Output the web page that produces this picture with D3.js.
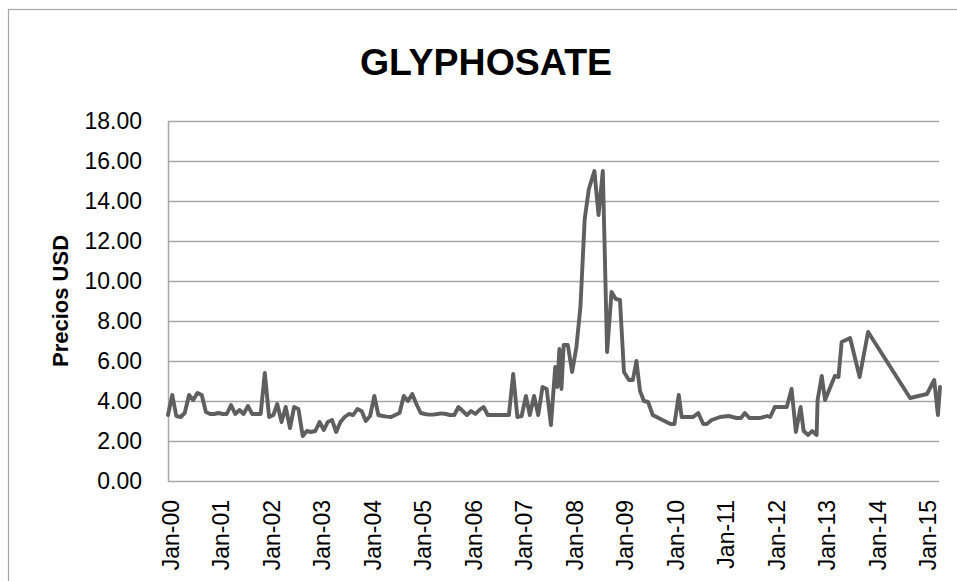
<!DOCTYPE html>
<html><head><meta charset="utf-8">
<script src="https://cdn.jsdelivr.net/npm/d3@7"></script>
<style>
html,body{margin:0;padding:0;background:#fff;}
svg{display:block;font-family:"Liberation Sans",Arial,sans-serif;}
</style></head>
<body><svg id="c" width="957" height="581"></svg>
<script>
const title = "GLYPHOSATE";
const yTitle = "Precios USD";
const yTicks = [0,2,4,6,8,10,12,14,16,18];
const xTickLabels = ["Jan-00","Jan-01","Jan-02","Jan-03","Jan-04","Jan-05","Jan-06","Jan-07","Jan-08","Jan-09","Jan-10","Jan-11","Jan-12","Jan-13","Jan-14","Jan-15"];
const dates = [
"2000-01-01","2000-02-01","2000-03-01","2000-04-01","2000-05-01","2000-06-01","2000-07-01","2000-08-01","2000-09-01","2000-10-01","2000-11-01","2000-12-01",
"2001-01-01","2001-02-01","2001-03-01","2001-04-01","2001-05-01","2001-06-01","2001-07-01","2001-08-01","2001-09-01","2001-10-01","2001-11-01","2001-12-01",
"2002-01-01","2002-02-01","2002-03-01","2002-04-01","2002-05-01","2002-06-01","2002-07-01","2002-08-01","2002-09-01","2002-10-01","2002-11-01","2002-12-01",
"2003-01-01","2003-02-01","2003-03-01","2003-04-01","2003-05-01","2003-06-01","2003-07-01","2003-08-01","2003-09-01","2003-10-01","2003-11-01","2003-12-01",
"2004-01-01","2004-02-01","2004-03-01","2004-04-01","2004-05-01","2004-06-01","2004-07-01","2004-08-01","2004-09-01","2004-10-01","2004-11-01","2004-12-01",
"2005-01-01","2005-02-01","2005-03-01","2005-04-01","2005-05-01","2005-06-01","2005-07-01","2005-08-01","2005-09-01","2005-10-01","2005-11-01","2005-12-01",
"2006-01-01","2006-02-01","2006-03-01","2006-04-01","2006-05-01","2006-06-01","2006-07-01","2006-08-01","2006-09-01","2006-10-01","2006-11-01","2006-12-01",
"2007-01-01","2007-02-01","2007-03-01","2007-04-01","2007-05-01","2007-06-01","2007-07-01","2007-08-01","2007-09-01","2007-09-16","2007-10-01","2007-10-16","2007-11-01","2007-12-01",
"2008-01-01","2008-02-01","2008-03-01","2008-04-01","2008-05-01","2008-06-10","2008-07-10","2008-08-10","2008-09-10","2008-10-12","2008-11-12","2008-12-12",
"2009-01-10","2009-02-15","2009-03-15","2009-04-10","2009-05-06","2009-06-03","2009-07-03","2009-08-06","2009-10-01","2009-12-12",
"2010-01-10","2010-02-10","2010-03-03","2010-05-25","2010-07-01","2010-08-06","2010-09-01","2010-10-06","2010-12-06",
"2011-02-06","2011-04-03","2011-05-06","2011-06-03","2011-07-06","2011-09-21","2011-11-10","2011-12-03",
"2012-01-06","2012-04-01","2012-05-06","2012-06-06","2012-07-10","2012-08-01","2012-09-03","2012-10-01","2012-11-03","2012-11-10","2012-12-10",
"2013-01-03","2013-02-10","2013-03-15","2013-04-10","2013-05-03","2013-07-03","2013-09-10","2013-11-10",
"2014-09-10","2015-01-10","2015-03-03","2015-03-30","2015-04-14"
];
const prices = [
3.3,4.3,3.25,3.2,3.4,4.3,4.05,4.4,4.3,3.45,3.35,3.35,
3.4,3.35,3.35,3.8,3.35,3.55,3.35,3.75,3.35,3.35,3.35,5.4,
3.2,3.3,3.85,2.95,3.7,2.65,3.7,3.6,2.25,2.5,2.45,2.5,
2.95,2.55,2.95,3.05,2.45,2.95,3.2,3.35,3.3,3.6,3.5,3.0,
3.25,4.25,3.3,3.25,3.22,3.2,3.3,3.4,4.25,4.0,4.35,3.85,
3.4,3.35,3.32,3.32,3.35,3.38,3.35,3.3,3.3,3.7,3.5,3.3,
3.5,3.35,3.55,3.7,3.3,3.3,3.3,3.3,3.3,3.3,5.35,3.2,
3.25,4.25,3.3,4.25,3.3,4.7,4.6,2.8,5.7,4.7,6.6,4.6,6.8,6.8,
5.45,6.7,8.7,13.1,14.6,15.5,13.3,15.5,6.45,9.45,9.1,9.05,
5.45,5.05,5.05,6.0,4.5,4.0,3.95,3.3,3.1,2.85,
2.85,4.3,3.2,3.2,3.4,2.85,2.85,3.05,3.2,
3.25,3.15,3.15,3.4,3.15,3.15,3.25,3.2,
3.7,3.7,4.6,2.45,3.7,2.5,2.3,2.5,2.3,4.05,5.25,
4.05,4.7,5.25,5.2,6.95,7.15,5.2,7.45,
4.15,4.35,5.05,3.3,4.7
];

const parseDate = d3.timeParse("%Y-%m-%d");
const parseTick = d3.timeParse("%b-%y");
const data = dates.map((d,i)=>({date:parseDate(d), value:prices[i]}));

const svg = d3.select("#c");
const pLeft = 168, pRight = 940, pTop = 121, pBottom = 481;

const x = d3.scaleTime().domain([parseDate("2000-01-01"), parseDate("2015-04-14")]).range([pLeft, pRight]);
const y = d3.scaleLinear().domain([0,18]).range([pBottom, pTop]);

// outer border
svg.append("rect").attr("x",8.5).attr("y",9.5).attr("width",960).attr("height",600)
  .attr("fill","none").attr("stroke","#a6a6a6").attr("stroke-width",1.2);

// gridlines
svg.append("g").selectAll("line").data(yTicks.filter(t=>t>0)).join("line")
  .attr("x1",pLeft).attr("x2",939).attr("y1",d=>Math.round(y(d))+0.5).attr("y2",d=>Math.round(y(d))+0.5)
  .attr("stroke","#a8a8a8").attr("stroke-width",1.5);

// y axis
const yAxis = d3.axisLeft(y).tickValues(yTicks).tickFormat(d3.format(".2f")).tickSize(0).tickPadding(26);
const gy = svg.append("g").attr("transform",`translate(${pLeft},0)`).call(yAxis);
gy.select(".domain").attr("stroke","#a8a8a8").attr("stroke-width",1.5);
gy.selectAll("text").attr("font-size","23px").attr("fill","#000").attr("font-family","Liberation Sans, Arial, sans-serif");

// x axis
const xAxis = d3.axisBottom(x).tickValues(xTickLabels.map(parseTick)).tickFormat(d3.timeFormat("%b-%y")).tickSize(0);
const gx = svg.append("g").attr("transform",`translate(0,${pBottom})`).call(xAxis);
gx.select(".domain").attr("stroke","#a8a8a8").attr("stroke-width",1.5).attr("d",`M${pLeft},0.5H939`);
gx.selectAll("text").attr("font-size","23px").attr("fill","#000").attr("font-family","Liberation Sans, Arial, sans-serif")
  .attr("text-anchor","end").attr("transform","translate(2,19) rotate(-90)").attr("x",0).attr("y",0).attr("dy","0.35em");

// line
const line = d3.line().x(d=>x(d.date)).y(d=>y(d.value));
svg.append("path").datum(data).attr("d",line).attr("fill","none")
  .attr("stroke","#5f5f5f").attr("stroke-width",3.9).attr("stroke-linejoin","round").attr("stroke-linecap","round");

// title
svg.append("text").attr("x",486).attr("y",75).attr("text-anchor","middle")
  .attr("font-size","37.5px").attr("font-weight","bold").attr("fill","#000").text(title);

// y title
svg.append("text").attr("transform",`translate(68,${(pTop+pBottom)/2}) rotate(-90)`).attr("text-anchor","middle")
  .attr("font-size","22px").attr("font-weight","bold").attr("fill","#000").text(yTitle);
</script></body></html>
